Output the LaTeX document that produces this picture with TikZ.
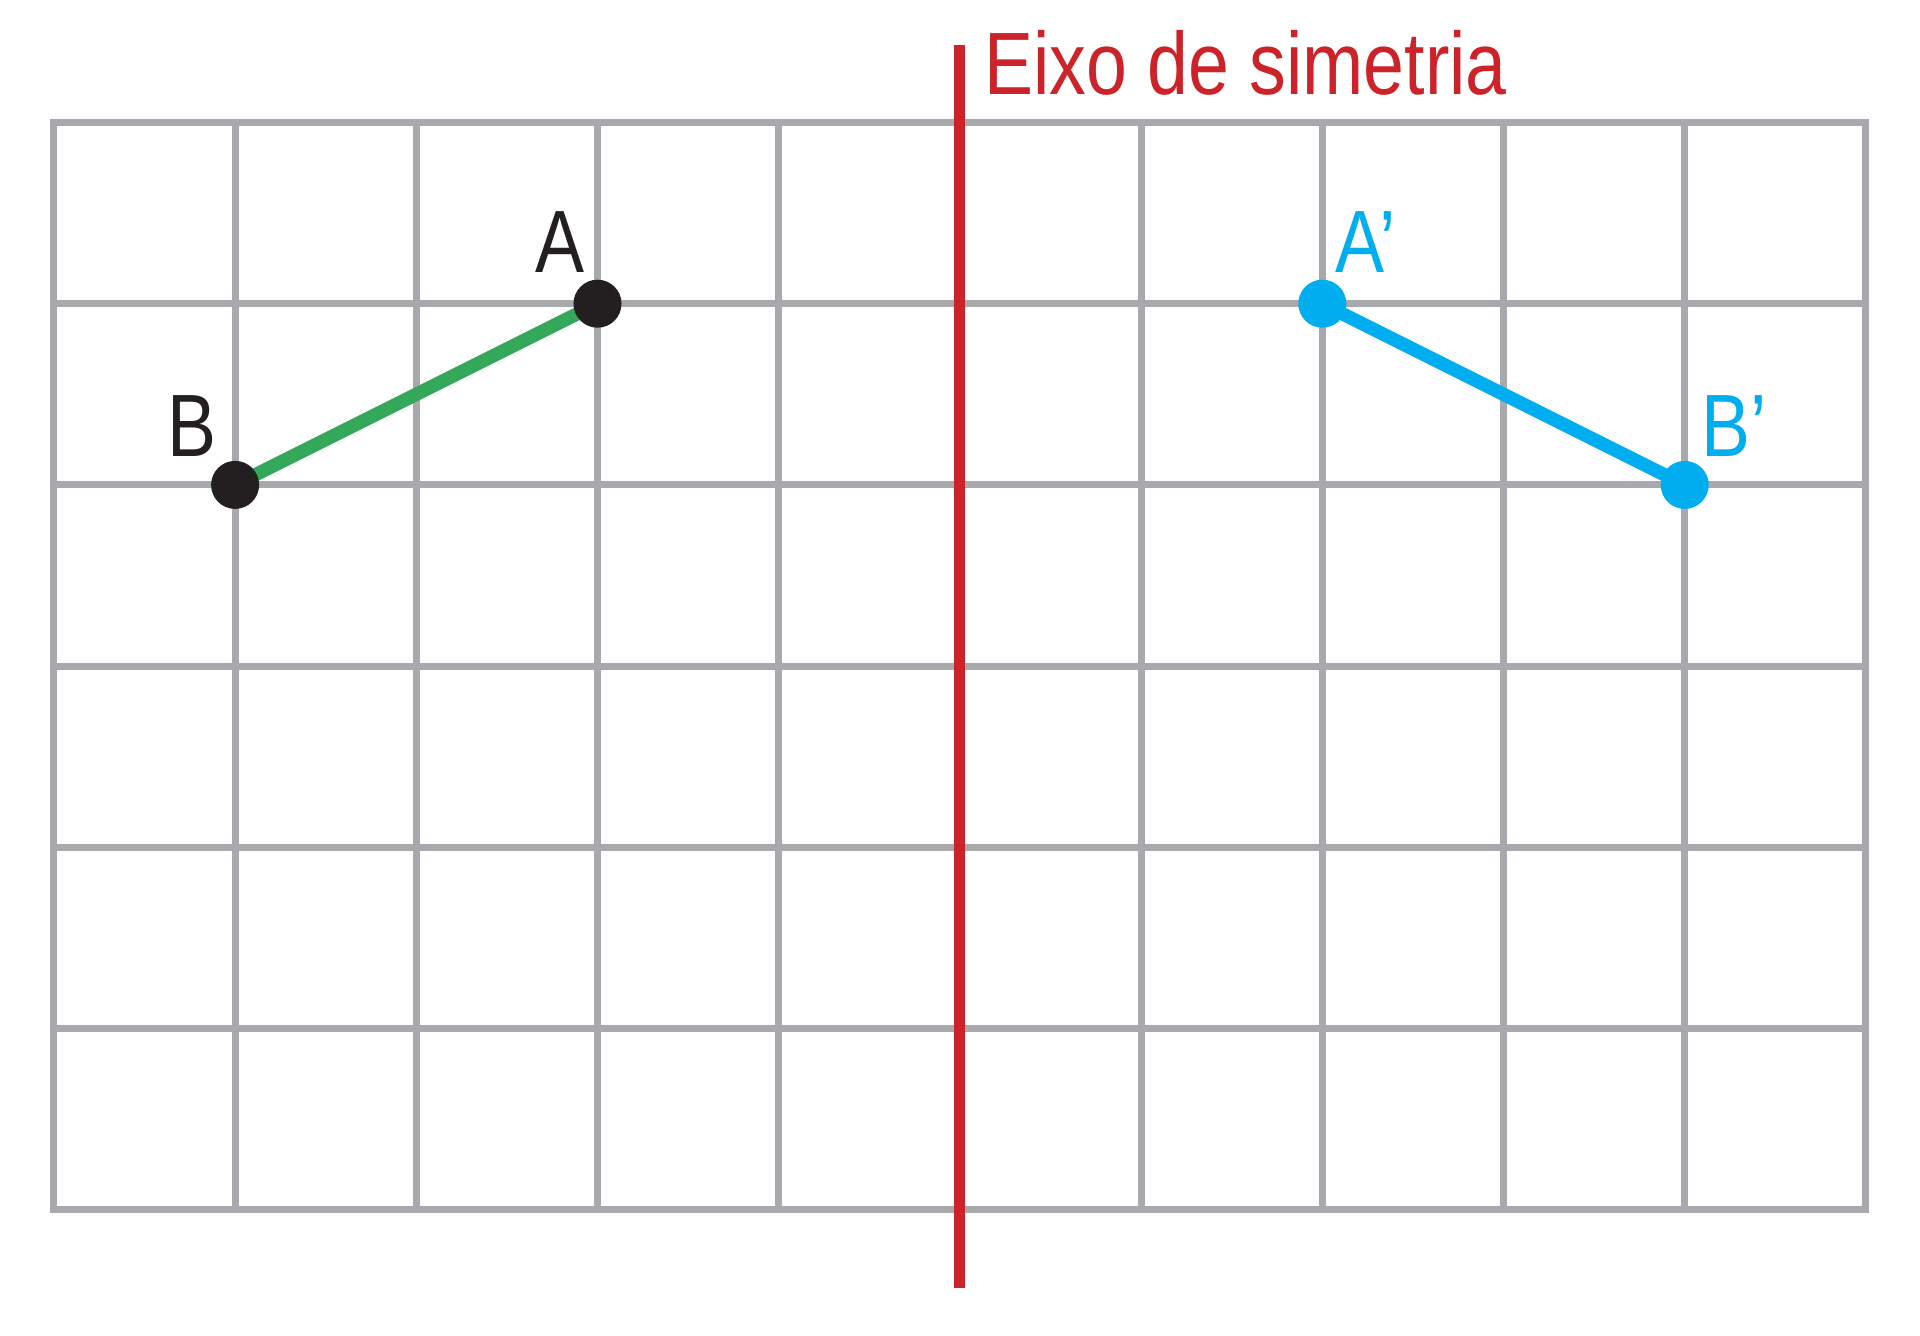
\documentclass[tikz,border=0pt]{standalone}
\usepackage{fontspec}
\setmainfont{Liberation Sans}
\usepackage{tikz}

\definecolor{gridgray}{RGB}{167,169,172}
\definecolor{axisred}{RGB}{204,34,41}
\definecolor{seggreen}{RGB}{52,168,90}
\definecolor{imgblue}{RGB}{0,174,239}
\definecolor{dotblack}{RGB}{35,31,32}

\begin{document}
\begin{tikzpicture}[gridline/.style={draw=gridgray, line width=1.1pt, line cap=rect},
  point node/.style={circle, inner sep=0pt, minimum size=0.265cm},
  name label/.style={inner sep=0pt, xscale=0.83, font=\fontsize{13.9}{16}\selectfont}]
  \useasboundingbox (-0.2975,-0.692) rectangle (10.2985,6.676);

  % quadricula
  \draw[gridline] (0,0) grid (10,6);

  % eixo de simetria
  \coordinate (axtop) at (5,6.426);
  \coordinate (axbot) at (5,-0.433);
  \draw[axisred, line width=1.75pt] (axbot) -- (axtop);
  \node[name label, text=axisred, anchor=base west] (axis) at (5.128,6.156) {Eixo de simetria};

  % pontos
  \coordinate (A) at (3,5);
  \coordinate (B) at (1,4);
  \coordinate (A') at (7,5);
  \coordinate (B') at (9,4);

  % segmentos
  \draw[seggreen, line width=2.1pt] (B) -- (A);
  \draw[imgblue, line width=2.1pt] (A') -- (B');

  \node[point node, fill=dotblack] (dA) at (A) {};
  \node[point node, fill=dotblack] (dB) at (B) {};
  \node[point node, fill=imgblue] (dA') at (A') {};
  \node[point node, fill=imgblue] (dB') at (B') {};

  % nomes
  \node[name label, text=dotblack, xshift=-0.25cm, yshift=0.34cm] (lA) at (A) {A};
  \node[name label, text=dotblack, xshift=-0.284cm, yshift=0.324cm] (lB) at (B) {B};
  \node[name label, text=imgblue, xshift=0.29cm, yshift=0.34cm] (lA') at (A') {A’};
  \node[name label, text=imgblue, xshift=0.326cm, yshift=0.324cm] (lB') at (B') {B’};
\end{tikzpicture}
\end{document}
